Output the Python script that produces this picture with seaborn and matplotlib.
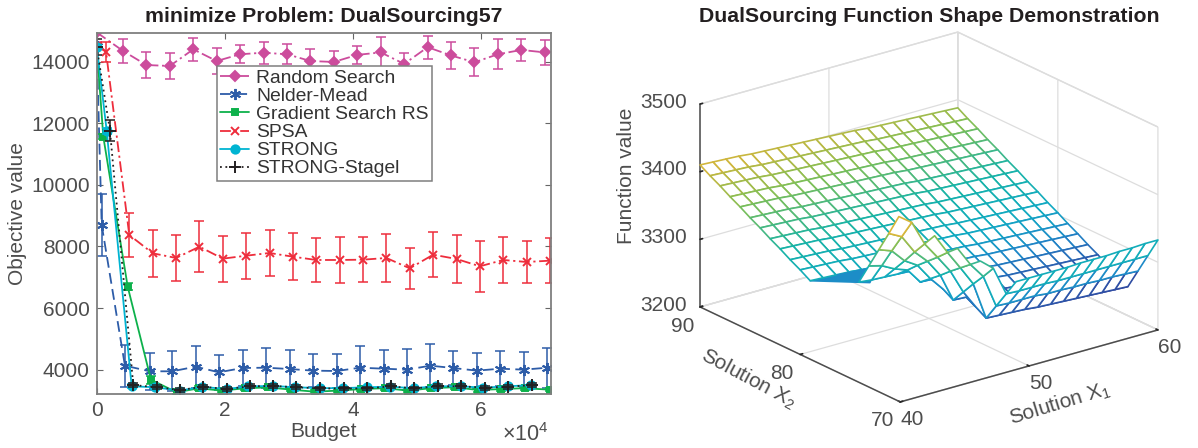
import numpy as np
import pandas as pd
import seaborn as sns
import matplotlib.pyplot as plt
from matplotlib.colors import LinearSegmentedColormap, Normalize
from mpl_toolkits.mplot3d.art3d import Poly3DCollection

# left panel data
rs_budget = [0, 4100, 7760, 11420, 15080, 18740, 22400, 26060, 29720, 33380, 37040, 40700, 44360, 48020, 51680, 55340, 59000, 62660, 66320, 69980]
rs_mean = [14950, 14350, 13890, 13860, 14400, 14020, 14240, 14290, 14240, 14020, 13990, 14220, 14300, 13925, 14470, 14200, 13980, 14240, 14380, 14300]
rs_err = [300, 380, 420, 420, 380, 430, 290, 360, 330, 400, 360, 290, 490, 350, 370, 430, 450, 480, 370, 400]

nm_budget = [0, 780, 4410, 8310, 11790, 15440, 19080, 22780, 26410, 30150, 33790, 37500, 41130, 44800, 48450, 52100, 55650, 59400, 63000, 66700, 70350]
nm_mean = [14500, 8697, 4129, 3947, 3947, 4097, 3915, 4054, 4064, 4021, 3968, 3957, 4064, 4032, 4000, 4129, 4054, 3968, 4032, 4000, 4064]
nm_err = [100, 1000, 680, 610, 650, 680, 570, 590, 650, 610, 535, 560, 690, 610, 670, 700, 560, 570, 560, 560, 650]

gs_budget = [0, 1030, 4840, 8470, 12470, 15950, 19500, 23130, 26770, 30420, 34060, 37700, 41340, 44980, 48610, 52260, 55900, 59530, 63180, 66820, 70720]
gs_mean = [14500, 11565, 6695, 3675, 3265, 3395, 3320, 3395, 3425, 3350, 3285, 3320, 3370, 3400, 3320, 3400, 3430, 3340, 3370, 3400, 3350]
gs_err = [80, 90, 120, 130, 60, 60, 50, 50, 50, 50, 50, 50, 50, 50, 50, 50, 50, 50, 50, 50, 50]

sp_budget = [0, 1450, 5090, 8740, 12390, 16040, 19690, 23340, 26990, 30640, 34290, 37940, 41590, 45240, 48890, 52540, 56190, 59840, 63490, 67140, 70790]
sp_mean = [14500, 14325, 8373, 7779, 7626, 7993, 7604, 7700, 7788, 7668, 7561, 7561, 7571, 7626, 7290, 7733, 7594, 7356, 7561, 7496, 7539]
sp_err = [100, 325, 700, 770, 760, 820, 750, 750, 740, 770, 700, 760, 720, 765, 670, 740, 770, 820, 760, 680, 720]

st_budget = [0, 1560, 5460, 9100, 12990, 16380, 20280, 23650, 27550, 30930, 34840, 38420, 42210, 45760, 49500, 53040, 56830, 60400, 64210, 67860]
st_mean = [14490, 11760, 3460, 3430, 3320, 3445, 3370, 3460, 3470, 3430, 3400, 3400, 3430, 3445, 3400, 3460, 3460, 3415, 3460, 3500]
st_err = [60, 100, 60, 60, 50, 50, 50, 50, 50, 50, 50, 50, 50, 50, 50, 50, 50, 50, 50, 50]

sg_budget = [0, 2070, 5710, 9370, 12990, 16630, 20280, 23900, 27550, 31200, 34950, 38620, 42210, 45910, 49540, 53240, 56900, 60580, 64210, 67950]
sg_mean = [14480, 11760, 3500, 3430, 3340, 3445, 3370, 3460, 3470, 3430, 3390, 3390, 3390, 3460, 3390, 3460, 3460, 3415, 3445, 3500]
sg_err = [270, 350, 70, 70, 60, 60, 60, 60, 60, 60, 60, 60, 60, 60, 60, 60, 60, 60, 60, 60]

# right panel data, one row per X2 value, columns are X1 = 40..60
x1_vals = [40, 41, 42, 43, 44, 45, 46, 47, 48, 49, 50, 51, 52, 53, 54, 55, 56, 57, 58, 59, 60]
x2_vals = [70, 71, 72, 73, 74, 75, 76, 77, 78, 79, 80, 81, 82, 83, 84, 85, 86, 87, 88, 89, 90]
n = np.nan
z_rows = [
    [n, n, n, n, n, n, n, n, n, 3330, 3330, 3330, 3330, 3330, 3331, 3331, 3331, 3332, 3332, 3333, 3333],
    [n, n, n, n, n, n, n, 3364, 3348, 3305, 3304, 3304, 3304, 3303, 3303, 3303, 3303, 3303, 3303, 3303, 3303],
    [n, n, n, n, n, n, 3381, 3352, 3329, 3280, 3279, 3279, 3279, 3277, 3277, 3276, 3276, 3275, 3275, 3274, 3273],
    [n, n, n, n, n, 3398, 3368, 3340, 3311, 3255, 3254, 3253, 3252, 3250, 3249, 3248, 3247, 3246, 3245, 3244, 3243],
    [n, n, n, 3430, 3416, 3379, 3354, 3328, 3292, 3264, 3263, 3262, 3261, 3259, 3258, 3257, 3256, 3255, 3254, 3253, 3252],
    [n, n, n, 3398, 3388, 3360, 3341, 3315, 3273, 3272, 3271, 3270, 3269, 3267, 3266, 3265, 3264, 3263, 3262, 3261, 3260],
    [n, n, n, 3367, 3360, 3340, 3328, 3303, 3282, 3281, 3280, 3279, 3278, 3276, 3275, 3274, 3273, 3272, 3271, 3270, 3269],
    [n, n, n, 3336, 3331, 3321, 3314, 3291, 3290, 3289, 3288, 3287, 3286, 3284, 3283, 3282, 3281, 3280, 3279, 3278, 3277],
    [n, n, n, 3305, 3303, 3302, 3301, 3300, 3299, 3298, 3297, 3296, 3295, 3293, 3292, 3291, 3290, 3289, 3288, 3287, 3286],
    [3316, 3315, 3314, 3313, 3311, 3310, 3309, 3308, 3307, 3306, 3305, 3304, 3303, 3301, 3300, 3299, 3298, 3297, 3296, 3295, 3294],
    [3325, 3324, 3323, 3322, 3320, 3319, 3318, 3317, 3316, 3315, 3314, 3313, 3312, 3310, 3309, 3308, 3307, 3306, 3305, 3304, 3303],
    [3333, 3332, 3331, 3330, 3328, 3327, 3326, 3325, 3324, 3323, 3322, 3321, 3320, 3318, 3317, 3316, 3315, 3314, 3313, 3312, 3311],
    [3342, 3341, 3340, 3339, 3337, 3336, 3335, 3334, 3333, 3332, 3331, 3330, 3329, 3327, 3326, 3325, 3324, 3323, 3322, 3321, 3320],
    [3350, 3349, 3348, 3347, 3345, 3344, 3343, 3342, 3341, 3340, 3339, 3338, 3337, 3335, 3334, 3333, 3332, 3331, 3330, 3329, 3328],
    [3359, 3358, 3357, 3356, 3354, 3353, 3352, 3351, 3350, 3349, 3348, 3347, 3346, 3344, 3343, 3342, 3341, 3340, 3339, 3338, 3337],
    [3367, 3366, 3365, 3364, 3362, 3361, 3360, 3359, 3358, 3357, 3356, 3355, 3354, 3352, 3351, 3350, 3349, 3348, 3347, 3346, 3345],
    [3376, 3375, 3374, 3373, 3371, 3370, 3369, 3368, 3367, 3366, 3365, 3364, 3363, 3361, 3360, 3359, 3358, 3357, 3356, 3355, 3354],
    [3384, 3383, 3382, 3381, 3379, 3378, 3377, 3376, 3375, 3374, 3373, 3372, 3371, 3369, 3368, 3367, 3366, 3365, 3364, 3363, 3362],
    [3393, 3392, 3391, 3390, 3388, 3387, 3386, 3385, 3384, 3383, 3382, 3381, 3380, 3378, 3377, 3376, 3375, 3374, 3373, 3372, 3371],
    [3401, 3400, 3399, 3398, 3396, 3395, 3394, 3393, 3392, 3391, 3390, 3389, 3388, 3386, 3385, 3384, 3383, 3382, 3381, 3380, 3379],
    [3410, 3409, 3408, 3407, 3405, 3404, 3403, 3402, 3401, 3400, 3399, 3398, 3397, 3395, 3394, 3393, 3392, 3391, 3390, 3389, 3388],
]
# tightly packed patch at the foot of the plane
patch_x1 = [40, 45.2, 43.7]
patch_x2 = [79, 79, 77.8]
patch_z = [3316, 3309, 3302]

parula = LinearSegmentedColormap.from_list('parula', [(0, '#33318f'), (0.12, '#2b5fb0'), (0.22, '#1f86c8'), (0.33, '#11a9c4'),
                                                      (0.5, '#17b3a8'), (0.7, '#7fbf56'), (0.88, '#d8b53a'), (1, '#fff200')])

sns.set_theme(style='white')
plt.rcParams['font.family'] = ['Liberation Sans', 'DejaVu Sans']
plt.rcParams['mathtext.fontset'] = 'custom'
plt.rcParams['mathtext.rm'] = 'Liberation Sans'
plt.rcParams['mathtext.it'] = 'Liberation Sans:italic'
plt.rcParams['mathtext.default'] = 'regular'
text_col = '#4d4d4d'
title_col = '#231f20'

fig = plt.figure(figsize=(11.98, 4.48), dpi=100)
ax = fig.add_axes([96.7/1198, 54/448, 454/1198, 361/448])

series = [
    ('Random Search', rs_budget, rs_mean, rs_err, '#cc4c9c', (0, (6, 2, 1.2, 2)), 'D', 5),
    ('Nelder-Mead', nm_budget, nm_mean, nm_err, '#2d5ca8', (0, (6, 3)), (6, 2, 0), 8),
    ('Gradient Search RS', gs_budget, gs_mean, gs_err, '#0db14b', '-', 's', 5),
    ('SPSA', sp_budget, sp_mean, sp_err, '#ee2d3c', (0, (6, 2, 1.2, 2)), 'x', 6),
    ('STRONG', st_budget, st_mean, st_err, '#00b4d2', '-', 'o', 6),
    ('STRONG-Stagel', sg_budget, sg_mean, sg_err, '#231f20', (0, (1, 2)), '+', 9),
]
for name, bud, mean, err, col, ls, mk, ms in series:
    df = pd.DataFrame({'Budget': bud, 'Value': mean})
    sns.lineplot(data=df, x='Budget', y='Value', color=col, linestyle=ls, marker=mk, markersize=ms,
                 markeredgecolor=col, markeredgewidth=1.4, linewidth=1.3, errorbar=None, label=name, ax=ax)
    ax.errorbar(bud, mean, yerr=err, fmt='none', ecolor=col, elinewidth=1.1, capsize=3.6, capthick=1.1)

ax.set_xlim(0, 70900)
ax.set_ylim(3210, 14930)
ax.set_xticks([0, 20000, 40000, 60000])
ax.set_xticklabels(['0', '2', '4', '6'])
ax.set_yticks([4000, 6000, 8000, 10000, 12000, 14000])
ax.tick_params(direction='in', length=4, width=0.8, color='#666666', labelsize=15, labelcolor=text_col,
               top=True, right=True, bottom=True, left=True, pad=5)
for s in ax.spines.values():
    s.set_color('#7f7f7f')
    s.set_linewidth(1.3)
ax.set_ylabel('Objective value', fontsize=15, color=text_col, labelpad=3)
ax.set_xlabel('')
fig.text(323/1198, 1-431/448, 'Budget', fontsize=15, color=text_col, ha='center', va='center')
fig.text(324/1198, 1-17/448, 'minimize Problem: DualSourcing57', fontsize=15.3, fontweight='bold', color=title_col, ha='center', va='center')
fig.text(525/1198, 1-435/448, r'$\times 10^{4}$', fontsize=15.5, color=text_col, ha='center', va='center')
leg = ax.legend(loc='upper left', bbox_to_anchor=(0.2643, 0.9086), borderaxespad=0, fontsize=13.9, frameon=True,
                fancybox=False, framealpha=1, edgecolor='#7f7f7f', handlelength=1.5, handletextpad=0.35,
                labelspacing=0.03, borderpad=0.18)
leg.get_frame().set_linewidth(1.1)
for t in leg.get_texts():
    t.set_color('#333333')

# 3D panel
side = 500
ax3 = fig.add_axes([(929 - 0.5135*side)/1198, (231 - 0.5135*side)/448, side/1198, side/448], projection='3d', proj_type='ortho')
ax3.view_init(elev=21.35, azim=-127.5)
ax3.set_box_aspect((325, 329, 218), zoom=496/side)
ax3.patch.set_alpha(0)

z_arr = np.array(z_rows, dtype=float)
norm = Normalize(3245, 3430)
polys, edges, faces = [], [], []
for i in range(len(x2_vals) - 1):
    for j in range(len(x1_vals) - 1):
        zc = [z_arr[i, j], z_arr[i, j+1], z_arr[i+1, j+1], z_arr[i+1, j]]
        if np.isnan(zc).any():
            continue
        polys.append([(x1_vals[j], x2_vals[i], zc[0]), (x1_vals[j+1], x2_vals[i], zc[1]),
                      (x1_vals[j+1], x2_vals[i+1], zc[2]), (x1_vals[j], x2_vals[i+1], zc[3])])
        col = parula(norm(np.mean(zc)))
        edges.append(col)
        faces.append((1, 1, 1, 1))
patch_col = parula(norm(3290))
polys.append(list(zip(patch_x1, patch_x2, patch_z)))
edges.append(patch_col)
faces.append(patch_col)
ax3.add_collection3d(Poly3DCollection(polys, facecolors=faces, edgecolors=edges, linewidths=1.2))

ax3.set_xlim(40, 60, view_margin=0)
ax3.set_ylim(70, 90, view_margin=0)
ax3.set_zlim(3200, 3500, view_margin=0)
ax3.set_xticks([40, 50, 60])
ax3.set_yticks([70, 80, 90])
ax3.set_zticks([3200, 3300, 3400, 3500])
for a in (ax3.xaxis, ax3.yaxis, ax3.zaxis):
    a.set_pane_color((1, 1, 1, 1))
    a.pane.set_edgecolor('#dddddd')
    a.line.set_color('#4d4d4d')
    a.line.set_linewidth(1.1)
    a._axinfo['grid'].update(color='#dddddd', linewidth=0.9)
    a._axinfo['tick'].update(color='#4d4d4d', inward_factor=0, outward_factor=0.12)
ax3.grid(True)
ax3.tick_params(labelsize=15, labelcolor=text_col)
ax3.tick_params(axis='x', pad=3)
ax3.tick_params(axis='y', pad=5)
ax3.tick_params(axis='z', pad=7)
for t in ax3.get_xticklabels() + ax3.get_yticklabels() + ax3.get_zticklabels():
    t.set_va('center')
fig.text(1060/1198, 1-404/448, r'Solution $X_1$', fontsize=15, color=text_col, rotation=17, ha='center', va='center')
fig.text(748/1198, 1-379/448, r'Solution $X_2$', fontsize=15, color=text_col, rotation=-28, ha='center', va='center')
fig.text(627/1198, 1-176/448, 'Function value', fontsize=15, color=text_col, rotation=90, ha='center', va='center')
fig.text(929.5/1198, 1-17/448, 'DualSourcing Function Shape Demonstration', fontsize=15.3, fontweight='bold', color=title_col, ha='center', va='center')

fig.savefig('out.png', dpi=100)
